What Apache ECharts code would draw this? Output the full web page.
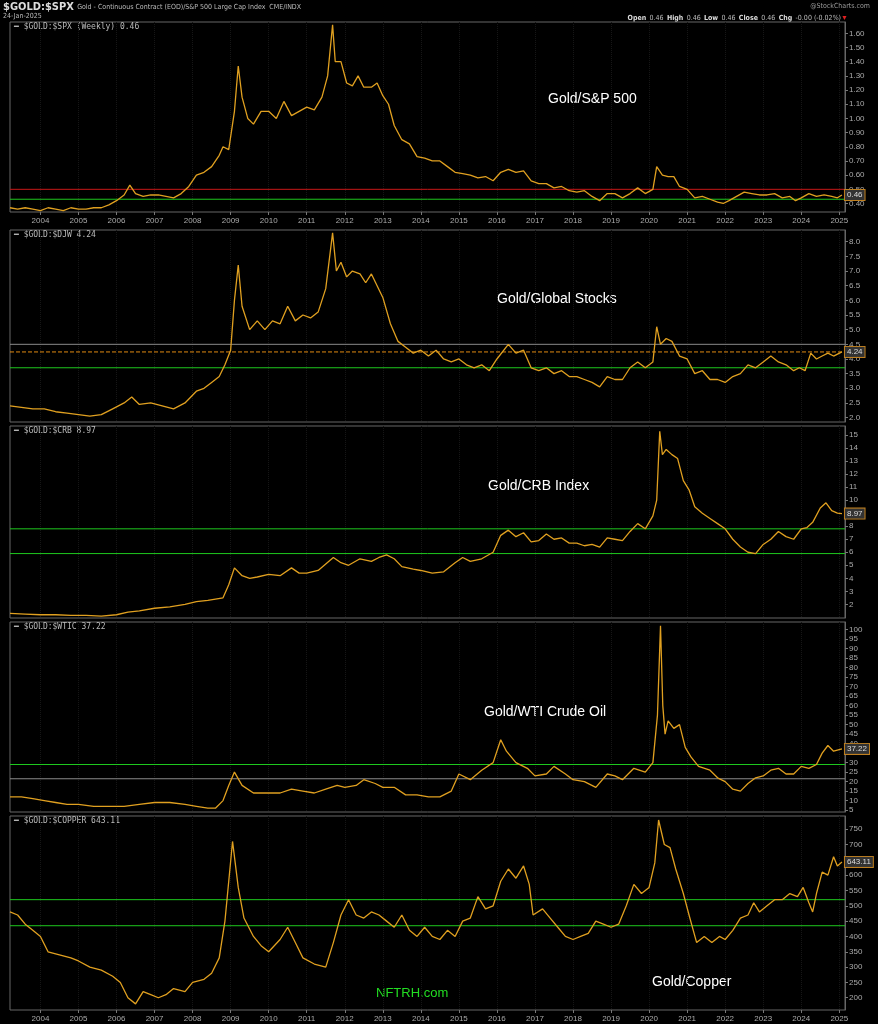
<!DOCTYPE html><html><head><meta charset="utf-8"><script src="https://cdn.jsdelivr.net/npm/echarts@6/dist/echarts.min.js"></script>
<style>html,body{margin:0;background:#000}#c{width:878px;height:1024px}</style></head><body><div id="c"></div><script>
const yearTicks=[2004,2005,2006,2007,2008,2009,2010,2011,2012,2013,2014,2015,2016,2017,2018,2019,2020,2021,2022,2023,2024,2025];
const goldSpx=[[2003.2,0.37],[2003.4,0.36],[2003.6,0.37],[2003.8,0.36],[2004,0.35],[2004.2,0.37],[2004.4,0.36],[2004.6,0.35],[2004.8,0.37],[2005,0.36],[2005.2,0.36],[2005.4,0.37],[2005.6,0.37],[2005.8,0.39],[2006,0.42],[2006.2,0.46],[2006.35,0.53],[2006.5,0.47],[2006.7,0.45],[2006.9,0.46],[2007.1,0.46],[2007.3,0.45],[2007.5,0.44],[2007.7,0.47],[2007.9,0.52],[2008.1,0.60],[2008.3,0.62],[2008.5,0.66],[2008.7,0.74],[2008.8,0.80],[2008.95,0.78],[2009.1,1.05],[2009.2,1.37],[2009.3,1.15],[2009.45,1.00],[2009.6,0.96],[2009.8,1.05],[2010,1.05],[2010.2,1.00],[2010.4,1.12],[2010.6,1.02],[2010.8,1.05],[2011,1.08],[2011.2,1.06],[2011.4,1.15],[2011.55,1.30],[2011.68,1.66],[2011.75,1.40],[2011.9,1.40],[2012.05,1.25],[2012.2,1.23],[2012.35,1.30],[2012.5,1.22],[2012.7,1.22],[2012.85,1.25],[2013,1.16],[2013.15,1.10],[2013.3,0.95],[2013.5,0.85],[2013.7,0.82],[2013.9,0.73],[2014.1,0.72],[2014.3,0.70],[2014.5,0.70],[2014.7,0.66],[2014.9,0.62],[2015.1,0.61],[2015.3,0.60],[2015.5,0.58],[2015.7,0.59],[2015.9,0.56],[2016.1,0.62],[2016.3,0.64],[2016.5,0.62],[2016.7,0.63],[2016.9,0.56],[2017.1,0.54],[2017.3,0.54],[2017.5,0.51],[2017.7,0.52],[2017.9,0.49],[2018.1,0.48],[2018.3,0.49],[2018.5,0.45],[2018.7,0.42],[2018.9,0.47],[2019.1,0.47],[2019.3,0.44],[2019.5,0.47],[2019.7,0.51],[2019.9,0.47],[2020.1,0.50],[2020.2,0.66],[2020.35,0.60],[2020.5,0.59],[2020.65,0.59],[2020.8,0.52],[2021,0.50],[2021.2,0.44],[2021.4,0.45],[2021.6,0.43],[2021.8,0.41],[2021.95,0.40],[2022.1,0.42],[2022.3,0.45],[2022.5,0.48],[2022.7,0.47],[2022.9,0.46],[2023.1,0.46],[2023.3,0.47],[2023.5,0.44],[2023.7,0.45],[2023.85,0.42],[2024,0.44],[2024.2,0.47],[2024.4,0.45],[2024.6,0.46],[2024.8,0.45],[2024.95,0.44],[2025.07,0.46]];
const goldDjw=[[2003.2,2.4],[2003.5,2.35],[2003.8,2.3],[2004.1,2.3],[2004.4,2.2],[2004.7,2.15],[2005,2.1],[2005.3,2.05],[2005.6,2.1],[2005.9,2.3],[2006.2,2.5],[2006.4,2.7],[2006.6,2.45],[2006.9,2.5],[2007.2,2.4],[2007.5,2.3],[2007.8,2.5],[2008.1,2.9],[2008.3,3.0],[2008.5,3.2],[2008.7,3.4],[2008.85,3.8],[2009,4.3],[2009.1,6.0],[2009.2,7.2],[2009.3,5.8],[2009.5,5.0],[2009.7,5.3],[2009.9,5.0],[2010.1,5.3],[2010.3,5.2],[2010.5,5.8],[2010.7,5.3],[2010.9,5.5],[2011.1,5.4],[2011.3,5.6],[2011.5,6.4],[2011.68,8.3],[2011.78,7.0],[2011.9,7.3],[2012.05,6.8],[2012.2,7.0],[2012.4,6.9],[2012.55,6.6],[2012.7,6.9],[2012.85,6.5],[2013,6.1],[2013.2,5.2],[2013.4,4.6],[2013.6,4.4],[2013.8,4.2],[2014,4.3],[2014.2,4.1],[2014.4,4.3],[2014.6,4.0],[2014.8,3.9],[2015,4.0],[2015.2,3.8],[2015.4,3.7],[2015.6,3.8],[2015.8,3.6],[2016,4.0],[2016.3,4.5],[2016.5,4.2],[2016.7,4.3],[2016.9,3.7],[2017.1,3.6],[2017.3,3.7],[2017.5,3.5],[2017.7,3.6],[2017.9,3.4],[2018.1,3.4],[2018.3,3.3],[2018.5,3.2],[2018.7,3.05],[2018.9,3.4],[2019.1,3.3],[2019.3,3.3],[2019.5,3.7],[2019.7,3.9],[2019.9,3.7],[2020.1,3.9],[2020.2,5.1],[2020.3,4.5],[2020.45,4.7],[2020.6,4.6],[2020.8,4.1],[2021,4.0],[2021.2,3.5],[2021.4,3.6],[2021.6,3.3],[2021.8,3.3],[2022,3.2],[2022.2,3.4],[2022.4,3.5],[2022.6,3.8],[2022.8,3.7],[2023,3.9],[2023.2,4.1],[2023.4,3.9],[2023.6,3.8],[2023.8,3.6],[2023.95,3.7],[2024.1,3.6],[2024.25,4.2],[2024.4,4.0],[2024.55,4.1],[2024.7,4.2],[2024.85,4.1],[2025.07,4.24]];
const goldCrb=[[2003.2,1.3],[2003.6,1.25],[2004,1.2],[2004.4,1.2],[2004.8,1.15],[2005.2,1.15],[2005.6,1.1],[2006,1.2],[2006.3,1.4],[2006.6,1.5],[2007,1.7],[2007.4,1.8],[2007.8,2.0],[2008.1,2.2],[2008.4,2.3],[2008.6,2.4],[2008.8,2.5],[2008.95,3.5],[2009.1,4.8],[2009.3,4.2],[2009.5,4.0],[2009.7,4.1],[2010,4.3],[2010.3,4.2],[2010.6,4.8],[2010.8,4.4],[2011,4.4],[2011.3,4.6],[2011.7,5.6],[2011.9,5.2],[2012.1,5.0],[2012.4,5.5],[2012.7,5.3],[2012.9,5.6],[2013.1,5.8],[2013.3,5.5],[2013.5,4.9],[2013.8,4.7],[2014,4.6],[2014.3,4.4],[2014.6,4.5],[2014.9,5.2],[2015.1,5.6],[2015.3,5.3],[2015.6,5.5],[2015.9,6.0],[2016.1,7.3],[2016.3,7.7],[2016.5,7.2],[2016.7,7.5],[2016.9,6.8],[2017.1,6.9],[2017.3,7.4],[2017.5,7.0],[2017.7,7.1],[2017.9,6.7],[2018.1,6.7],[2018.3,6.5],[2018.5,6.6],[2018.7,6.4],[2018.9,7.1],[2019.1,7.0],[2019.3,6.9],[2019.5,7.6],[2019.7,8.2],[2019.9,7.8],[2020.1,8.8],[2020.2,10.0],[2020.28,15.3],[2020.35,13.5],[2020.45,13.9],[2020.6,13.5],[2020.75,13.2],[2020.9,11.5],[2021.05,10.8],[2021.2,9.5],[2021.4,9.0],[2021.6,8.6],[2021.8,8.2],[2022,7.8],[2022.2,7.0],[2022.4,6.4],[2022.6,6.0],[2022.8,5.9],[2023,6.6],[2023.2,7.0],[2023.4,7.6],[2023.6,7.2],[2023.8,7.0],[2024,7.8],[2024.15,7.9],[2024.3,8.3],[2024.5,9.4],[2024.65,9.8],[2024.8,9.2],[2024.95,9.0],[2025.07,8.97]];
const goldWti=[[2003.2,12],[2003.5,12],[2003.8,11],[2004.1,10],[2004.4,9],[2004.7,8],[2005,8],[2005.4,7],[2005.8,7],[2006.2,7],[2006.6,8],[2007,9],[2007.4,9],[2007.8,8],[2008.1,7],[2008.4,6],[2008.6,6],[2008.8,10],[2008.95,18],[2009.1,25],[2009.3,18],[2009.6,14],[2010,14],[2010.3,14],[2010.6,16],[2010.9,15],[2011.2,14],[2011.5,16],[2011.8,18],[2012,17],[2012.3,18],[2012.5,21],[2012.8,19],[2013,17],[2013.3,17],[2013.6,13],[2013.9,13],[2014.2,12],[2014.5,12],[2014.8,15],[2015,24],[2015.3,21],[2015.6,26],[2015.9,30],[2016.1,42],[2016.25,36],[2016.5,30],[2016.8,27],[2017,23],[2017.3,24],[2017.5,28],[2017.8,24],[2018,21],[2018.3,20],[2018.6,17],[2018.9,24],[2019.1,23],[2019.3,21],[2019.6,27],[2019.9,25],[2020.1,30],[2020.22,55],[2020.3,102],[2020.36,60],[2020.42,45],[2020.5,52],[2020.65,48],[2020.8,50],[2020.95,38],[2021.1,33],[2021.3,28],[2021.6,26],[2021.8,22],[2022,20],[2022.2,16],[2022.4,15],[2022.6,19],[2022.8,22],[2023,23],[2023.2,26],[2023.4,27],[2023.6,24],[2023.8,24],[2024,28],[2024.2,27],[2024.4,29],[2024.55,35],[2024.7,39],[2024.85,36],[2025.07,37.22]];
const goldCopper=[[2003.2,480],[2003.4,470],[2003.6,440],[2003.8,420],[2004,400],[2004.2,350],[2004.5,340],[2004.8,330],[2005,320],[2005.3,300],[2005.6,290],[2005.9,270],[2006.1,250],[2006.3,200],[2006.5,180],[2006.7,220],[2006.9,210],[2007.1,200],[2007.3,210],[2007.5,230],[2007.8,220],[2008,250],[2008.3,260],[2008.5,280],[2008.7,330],[2008.85,450],[2009.05,710],[2009.2,560],[2009.35,460],[2009.6,400],[2009.8,370],[2010,350],[2010.3,390],[2010.5,430],[2010.7,380],[2010.9,330],[2011.2,310],[2011.5,300],[2011.7,380],[2011.9,470],[2012.1,520],[2012.3,470],[2012.5,460],[2012.7,480],[2012.9,470],[2013.1,450],[2013.3,430],[2013.5,470],[2013.7,420],[2013.9,400],[2014.1,430],[2014.3,400],[2014.5,390],[2014.7,420],[2014.9,400],[2015.1,450],[2015.3,460],[2015.5,530],[2015.7,490],[2015.9,500],[2016.1,580],[2016.3,620],[2016.5,590],[2016.7,630],[2016.85,570],[2016.95,470],[2017.2,490],[2017.4,460],[2017.6,430],[2017.8,400],[2018,390],[2018.2,400],[2018.4,410],[2018.6,450],[2018.8,440],[2019,430],[2019.2,440],[2019.4,500],[2019.6,570],[2019.8,540],[2020,560],[2020.15,640],[2020.25,780],[2020.4,700],[2020.55,690],[2020.7,620],[2020.9,540],[2021.05,470],[2021.25,380],[2021.45,400],[2021.65,380],[2021.85,400],[2022,390],[2022.2,420],[2022.4,460],[2022.6,470],[2022.75,510],[2022.9,480],[2023.1,500],[2023.3,520],[2023.5,520],[2023.7,540],[2023.9,530],[2024.05,560],[2024.2,510],[2024.3,480],[2024.4,540],[2024.55,610],[2024.7,600],[2024.85,660],[2024.95,630],[2025.07,643.11]];
const panels=[
 {name:'$GOLD:$SPX (Weekly) 0.46',data:goldSpx,min:0.34,max:1.68,ticks:[0.4,0.5,0.6,0.7,0.8,0.9,1.0,1.1,1.2,1.3,1.4,1.5,1.6],dec:2,lines:[[0.50,'#c81818','solid'],[0.43,'#1ec81e','solid']],last:'0.46',title:'Gold/S&P 500',tx:548,ty:100},
 {name:'$GOLD:$DJW 4.24',data:goldDjw,min:1.85,max:8.4,ticks:[2,2.5,3,3.5,4,4.5,5,5.5,6,6.5,7,7.5,8],dec:1,lines:[[4.5,'#8a8a8a','solid'],[4.24,'#e08a10','dashed'],[3.7,'#1ec81e','solid']],last:'4.24',title:'Gold/Global Stocks',tx:497,ty:300},
 {name:'$GOLD:$CRB 8.97',data:goldCrb,min:0.95,max:15.7,ticks:[2,3,4,5,6,7,8,9,10,11,12,13,14,15],dec:0,lines:[[7.8,'#1ec81e','solid'],[5.9,'#1ec81e','solid']],last:'8.97',title:'Gold/CRB Index',tx:488,ty:487},
 {name:'$GOLD:$WTIC 37.22',data:goldWti,min:4,max:104,ticks:[5,10,15,20,25,30,35,40,45,50,55,60,65,70,75,80,85,90,95,100],dec:0,lines:[[29,'#1ec81e','solid'],[21.5,'#8a8a8a','solid']],last:'37.22',title:'Gold/WTI Crude Oil',tx:484,ty:713},
 {name:'$GOLD:$COPPER 643.11',data:goldCopper,min:160,max:793,ticks:[200,250,300,350,400,450,500,550,600,650,700,750],dec:0,lines:[[520,'#1ec81e','solid'],[435,'#1ec81e','solid']],last:'643.11',title:'Gold/Copper',tx:652,ty:983}
];
const XMIN=2003.2,XMAX=2025.15;
const tops=[22,230,426,622,816],hs=[190,192,192,190,194];
const grid=[],xAxis=[],yAxis=[],series=[],graphic=[];
const F='Liberation Sans';
panels.forEach((p,i)=>{
 grid.push({left:10,right:33,top:tops[i],height:hs[i],show:true,borderColor:'#666',borderWidth:1,backgroundColor:'#000'});
 const showX=(i===0||i===4);
 xAxis.push({type:'value',gridIndex:i,min:XMIN,max:XMAX,axisLine:{show:false},axisTick:{show:showX,customValues:yearTicks,length:3,lineStyle:{color:'#777'}},
  axisLabel:{show:showX,customValues:yearTicks,color:'#aaa',fontSize:8,fontFamily:F,margin:5,formatter:v=>String(Math.round(v))},
  splitLine:{show:true,lineStyle:{color:'#161616',type:'dotted'}}});
 yAxis.push({type:'value',gridIndex:i,position:'right',min:p.min,max:p.max,axisLine:{show:true,lineStyle:{color:'#666'}},
  axisTick:{show:true,customValues:p.ticks,length:3,lineStyle:{color:'#777'}},
  axisLabel:{customValues:p.ticks,color:'#aaa',fontSize:8,fontFamily:F,margin:4,formatter:v=>v.toFixed(p.dec)},splitLine:{show:false}});
 p.lines.forEach(l=>{
  series.push({type:'line',xAxisIndex:i,yAxisIndex:i,data:[[XMIN,l[0]],[XMAX,l[0]]],showSymbol:false,silent:true,z:3,
   color:l[1],lineStyle:{color:l[1],type:l[2],width:1}});
 });
 series.push({type:'line',xAxisIndex:i,yAxisIndex:i,data:p.data,showSymbol:false,color:'#e0a020',lineStyle:{color:'#e0a020',width:1.3},silent:true,z:5,
  endLabel:{show:true,formatter:p.last,color:'#ddd',fontSize:8,backgroundColor:'#333',borderColor:'#c08020',borderWidth:1,padding:[1,2],distance:3}});
 graphic.push({type:'text',left:14,top:tops[i]+1,style:{text:'━ '+p.name,fill:'#bbb',fontSize:8,fontFamily:'DejaVu Sans Mono'}});
 graphic.push({type:'text',left:p.tx,top:p.ty-8,style:{text:p.title,fill:'#fff',fontSize:14,fontFamily:F}});
});
graphic.push({type:'text',left:3,top:1,style:{rich:{a:{fontSize:11,fontWeight:'bold',fill:'#ddd',fontFamily:'DejaVu Sans Condensed'},b:{fontSize:7,fill:'#bbb',fontFamily:'DejaVu Sans Condensed'}},text:'{a|$GOLD:$SPX} {b|Gold - Continuous Contract (EOD)/S&P 500 Large Cap Index  CME/INDX}'}});
graphic.push({type:'text',left:3,top:13,style:{text:'24-Jan-2025',fill:'#bbb',fontSize:7,fontFamily:'DejaVu Sans Condensed'}});
graphic.push({type:'text',right:8,top:3,style:{text:'@StockCharts.com',fill:'#999',fontSize:7,fontFamily:'DejaVu Sans Condensed'}});
graphic.push({type:'text',right:30,top:12,style:{rich:{k:{fontSize:7,fontWeight:'bold',fill:'#ddd',fontFamily:'DejaVu Sans Condensed'},v:{fontSize:7,fill:'#bbb',fontFamily:'DejaVu Sans Condensed'},r:{fontSize:7,fill:'#e02020'}},text:'{k|Open} {v|0.46} {k|High} {v|0.46} {k|Low} {v|0.46} {k|Close} {v|0.46} {k|Chg} {v|-0.00 (-0.02%)}{r|▼}'}});
graphic.push({type:'text',left:376,top:987,style:{text:'NFTRH.com',fill:'#22dd22',fontSize:13,fontFamily:F}});
const ch=echarts.init(document.getElementById('c'),null,{renderer:'canvas'});
ch.setOption({backgroundColor:'#000',animation:false,grid,xAxis,yAxis,series,graphic});
</script></body></html>
